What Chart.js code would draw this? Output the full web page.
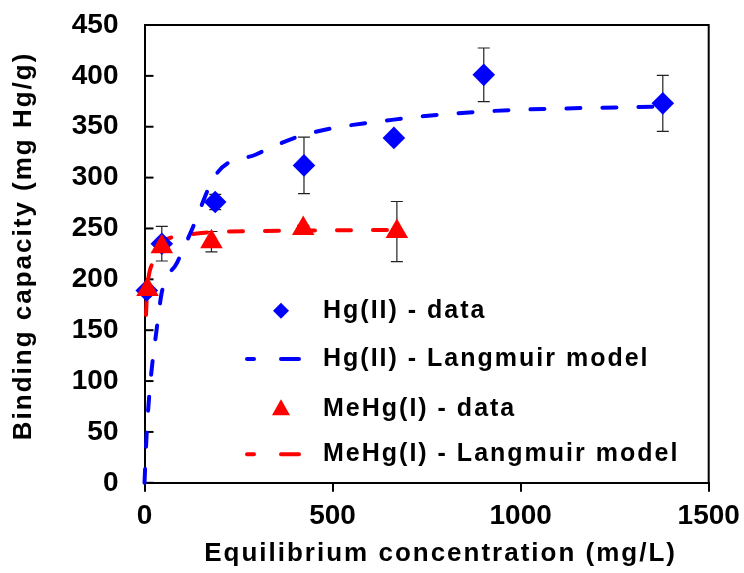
<!DOCTYPE html>
<html>
<head>
<meta charset="utf-8">
<script src="https://cdn.jsdelivr.net/npm/chart.js@4.4.0/dist/chart.umd.min.js"></script>
<style>
  html, body { margin: 0; padding: 0; background: #fff; }
</style>
</head>
<body>
<canvas id="isothermChart" width="744" height="573"></canvas>
<script>
// === DATA ===
const hgX = [6, 46, 188, 424, 663, 902, 1378];
const hgY = [189, 235, 276, 312, 339, 401, 373];
const hgErr = [0, 17, 7.5, 27.7, 0, 26.4, 27.5];

const meX = [8, 46, 178, 422, 671];
const meY = [190, 232, 237, 250, 247];
const meErr = [0, 0, 10, 3, 29.5];

const hgFitX = [0, 6, 16, 32, 47, 86, 125, 190, 298, 424, 663, 902, 1378];
const hgFitY = [0, 50, 100, 150, 189, 216, 248, 303, 323, 342, 357, 365, 370];

const meFitX = [4, 8, 32, 50, 90, 139, 192, 300, 424, 671];
const meFitY = [165, 195, 220, 237, 242, 245, 246.5, 247.5, 248, 248.5];

const xTicks = [0, 500, 1000, 1500];
const yTicks = [0, 50, 100, 150, 200, 250, 300, 350, 400, 450];

const labels = ['Hg(II) - data', 'Hg(II) - Langmuir model', 'MeHg(I) - data', 'MeHg(I) - Langmuir model'];
const xTitle = 'Equilibrium concentration (mg/L)';
const yTitle = 'Binding capacity (mg Hg/g)';

const BLUE = '#0000FF';
const RED = '#FF0000';
const FONT = "'Liberation Sans', Arial, sans-serif";

function toPoints(xs, ys) {
  return xs.map((x, i) => ({ x: x, y: ys[i] }));
}

// error bars, frame, inward y ticks, titles, legend
const overlay = {
  id: 'overlay',
  beforeDatasetsDraw(chart) {
    const ctx = chart.ctx;
    const a = chart.chartArea;
    const xs = chart.scales.x;
    const ys = chart.scales.y;
    ctx.save();
    // frame top + right
    ctx.strokeStyle = '#000';
    ctx.lineWidth = 2;
    ctx.beginPath();
    ctx.moveTo(a.left, a.top);
    ctx.lineTo(a.right, a.top);
    ctx.lineTo(a.right, a.bottom);
    ctx.stroke();
    // y ticks pointing inward
    yTicks.forEach(v => {
      const py = ys.getPixelForValue(v);
      ctx.beginPath();
      ctx.moveTo(a.left, py);
      ctx.lineTo(a.left + 9, py);
      ctx.stroke();
    });
    // error bars
    ctx.strokeStyle = '#222';
    ctx.lineWidth = 1.2;
    const bars = (xArr, yArr, eArr) => {
      xArr.forEach((x, i) => {
        if (!eArr[i]) return;
        const px = xs.getPixelForValue(x);
        const top = ys.getPixelForValue(yArr[i] + eArr[i]);
        const bot = ys.getPixelForValue(yArr[i] - eArr[i]);
        ctx.beginPath();
        ctx.moveTo(px, top); ctx.lineTo(px, bot);
        ctx.moveTo(px - 6, top); ctx.lineTo(px + 6, top);
        ctx.moveTo(px - 6, bot); ctx.lineTo(px + 6, bot);
        ctx.stroke();
      });
    };
    bars(hgX, hgY, hgErr);
    bars(meX, meY, meErr);
    ctx.restore();
  },
  afterDraw(chart) {
    const ctx = chart.ctx;
    const a = chart.chartArea;
    ctx.save();
    ctx.fillStyle = '#000';
    ctx.letterSpacing = '2px';
    // axis titles
    ctx.font = 'bold 26px ' + FONT;
    ctx.textAlign = 'center';
    ctx.textBaseline = 'middle';
    ctx.fillText(xTitle, (a.left + a.right) / 2 + 14, 554);
    ctx.save();
    ctx.translate(24, (a.top + a.bottom) / 2 - 8);
    ctx.rotate(-Math.PI / 2);
    ctx.fillText(yTitle, 0, 0);
    ctx.restore();

    // legend
    const rows = [310.7, 359, 409.3, 454.3];
    const ds = chart.data.datasets;
    ctx.font = 'bold 25px ' + FONT;
    ctx.textAlign = 'left';
    ctx.textBaseline = 'middle';
    ds.forEach((d, i) => {
      const y = rows[i];
      if (d.showLine === false) {
        ctx.fillStyle = d.backgroundColor;
        ctx.beginPath();
        if (d.pointStyle === 'rectRot') {
          ctx.moveTo(281, y - 8); ctx.lineTo(289, y); ctx.lineTo(281, y + 8); ctx.lineTo(273, y);
        } else {
          ctx.moveTo(281, y - 10); ctx.lineTo(290, y + 6); ctx.lineTo(272, y + 6);
        }
        ctx.closePath();
        ctx.fill();
      } else {
        ctx.strokeStyle = d.borderColor;
        ctx.lineWidth = 4;
        ctx.lineCap = 'round';
        ctx.setLineDash([7, 27, 18, 100]);
        ctx.beginPath();
        ctx.moveTo(247, y);
        ctx.lineTo(300, y);
        ctx.stroke();
        ctx.setLineDash([]);
      }
      ctx.fillStyle = '#000';
      ctx.fillText(d.label, 323, y);
    });
    ctx.restore();
  }
};

const ctx = document.getElementById('isothermChart').getContext('2d');
const chart = new Chart(ctx, {
  type: 'scatter',
  data: {
    datasets: [
      {
        label: labels[0],
        data: toPoints(hgX, hgY),
        showLine: false,
        pointStyle: 'rectRot',
        pointRadius: 11.3,
        pointHoverRadius: 11.3,
        backgroundColor: BLUE,
        borderColor: BLUE,
        borderWidth: 0,
        clip: false,
        order: 1
      },
      {
        label: labels[1],
        data: toPoints(hgFitX, hgFitY),
        showLine: true,
        pointRadius: 0,
        borderColor: BLUE,
        backgroundColor: BLUE,
        borderWidth: 4,
        borderDash: [14, 22],
        borderCapStyle: 'round',
        cubicInterpolationMode: 'monotone',
        clip: false,
        order: 2
      },
      {
        label: labels[2],
        data: toPoints(meX, meY),
        showLine: false,
        pointStyle: 'triangle',
        pointRadius: 13,
        pointHoverRadius: 13,
        backgroundColor: RED,
        borderColor: RED,
        borderWidth: 0,
        clip: false,
        order: 0
      },
      {
        label: labels[3],
        data: toPoints(meFitX, meFitY),
        showLine: true,
        pointRadius: 0,
        borderColor: RED,
        backgroundColor: RED,
        borderWidth: 4,
        borderDash: [14, 22],
        borderCapStyle: 'round',
        cubicInterpolationMode: 'monotone',
        clip: false,
        order: 3
      }
    ]
  },
  options: {
    responsive: false,
    animation: false,
    events: [],
    layout: { padding: { top: 25, right: 35.3, left: 0, bottom: 0 } },
    plugins: {
      legend: { display: false },
      tooltip: { enabled: false }
    },
    scales: {
      x: {
        type: 'linear',
        min: 0,
        max: 1500,
        afterFit: s => {
          s.height = 90.2;
          s.paddingLeft = 0;
          s.paddingRight = 0;
        },
        afterBuildTicks: s => { s.ticks = xTicks.map(v => ({ value: v })); },
        ticks: {
          color: '#000',
          padding: 8,
          maxRotation: 0,
          callback: v => String(v),
          font: { family: FONT, size: 28, weight: 'bold' }
        },
        grid: {
          display: true,
          drawOnChartArea: false,
          drawTicks: true,
          tickLength: 9,
          color: '#000',
          lineWidth: 2
        },
        border: { display: true, color: '#000', width: 2 }
      },
      y: {
        type: 'linear',
        min: 0,
        max: 450,
        afterFit: s => {
          s.width = 144.5;
          s.paddingTop = 0;
          s.paddingBottom = 0;
        },
        afterBuildTicks: s => { s.ticks = yTicks.map(v => ({ value: v })); },
        ticks: {
          color: '#000',
          padding: 26,
          callback: v => String(v),
          font: { family: FONT, size: 28, weight: 'bold' }
        },
        grid: {
          display: true,
          drawOnChartArea: false,
          drawTicks: false
        },
        border: { display: true, color: '#000', width: 2 }
      }
    }
  },
  plugins: [overlay]
});
</script>
</body>
</html>
